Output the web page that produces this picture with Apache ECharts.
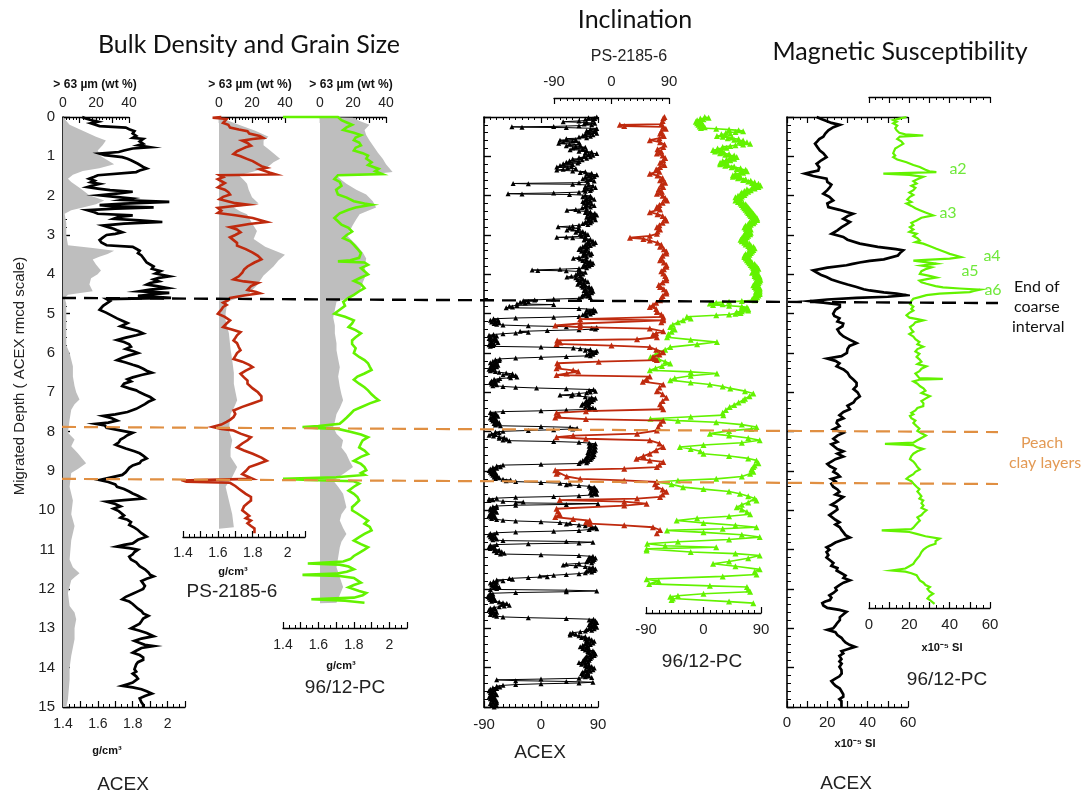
<!DOCTYPE html>
<html>
<head>
<meta charset="utf-8">
<title>Core correlation: density, grain size, inclination, susceptibility</title>
<script src="https://cdn.jsdelivr.net/npm/echarts@6.0.0/dist/echarts.min.js"></script>
<style>
  html, body { margin: 0; padding: 0; background: #fff; }
  #chart { width: 1090px; height: 795px; }
</style>
</head>
<body>
<div id="chart"></div>
<script>
// ---------------------------------------------------------------------------
// Data: every profile is a list of [depth (m, ACEX rmcd), value]
// ---------------------------------------------------------------------------

// ACEX bulk density (g/cm3)
const acexDensity = [
  [0.00,1.51],[0.04,1.53],[0.06,1.54],[0.10,1.58],[0.12,1.60],[0.16,1.56],[0.20,1.57],[0.23,1.61],[0.27,1.76],[0.31,1.78],
  [0.36,1.81],[0.42,1.80],[0.48,1.82],[0.53,1.80],[0.56,1.86],[0.62,1.84],[0.68,1.86],[0.72,1.83],[0.77,1.90],[0.80,1.80],
  [0.85,1.75],[0.89,1.72],[0.93,1.61],[0.97,1.64],[1.02,1.74],[1.06,1.77],[1.10,1.79],[1.14,1.80],[1.19,1.83],[1.23,1.84],
  [1.27,1.86],[1.31,1.88],[1.36,1.84],[1.40,1.82],[1.44,1.83],[1.48,1.60],[1.52,1.58],[1.57,1.55],[1.62,1.58],[1.66,1.56],
  [1.70,1.61],[1.74,1.57],[1.78,1.54],[1.82,1.60],[1.86,1.67],[1.90,1.80],[1.94,1.72],[1.99,1.61],[2.03,1.70],[2.07,1.79],
  [2.11,1.74],[2.16,2.01],[2.20,1.75],[2.24,1.61],[2.27,1.70],[2.30,1.92],[2.33,1.70],[2.37,1.54],[2.42,1.58],[2.46,1.60],
  [2.50,1.80],[2.54,1.72],[2.59,1.69],[2.63,1.84],[2.67,1.97],[2.71,1.75],[2.76,1.63],[2.80,1.66],[2.84,1.69],[2.88,1.71],
  [2.93,1.74],[2.97,1.70],[3.00,1.65],[3.06,1.63],[3.13,1.61],[3.19,1.62],[3.26,1.65],[3.30,1.80],[3.35,1.82],[3.40,1.84],
  [3.46,1.83],[3.52,1.85],[3.58,1.86],[3.64,1.87],[3.70,1.88],[3.75,1.90],[3.80,1.92],[3.86,1.91],[3.92,1.96],[3.98,1.93],
  [4.05,2.01],[4.09,1.95],[4.13,1.92],[4.18,1.95],[4.22,1.90],[4.26,1.88],[4.30,1.94],[4.35,2.00],[4.39,1.90],[4.43,1.84],
  [4.47,2.01],[4.51,1.90],[4.55,1.83],[4.58,1.95],[4.60,2.02],[4.63,1.65],[4.68,1.67],[4.73,1.67],[4.80,1.63],[4.90,1.61],
  [4.98,1.65],[5.05,1.68],[5.12,1.71],[5.18,1.74],[5.24,1.77],[5.28,1.75],[5.32,1.73],[5.38,1.78],[5.44,1.83],[5.50,1.86],
  [5.55,1.82],[5.61,1.76],[5.67,1.71],[5.72,1.75],[5.78,1.78],[5.84,1.79],[5.90,1.76],[5.95,1.80],[6.00,1.83],[6.06,1.78],
  [6.12,1.74],[6.18,1.71],[6.24,1.76],[6.30,1.80],[6.34,1.83],[6.40,1.86],[6.45,1.88],[6.50,1.91],[6.56,1.85],[6.62,1.80],
  [6.67,1.77],[6.72,1.79],[6.78,1.75],[6.84,1.74],[6.90,1.78],[6.95,1.82],[7.00,1.84],[7.06,1.87],[7.12,1.90],[7.18,1.92],
  [7.24,1.89],[7.30,1.87],[7.35,1.86],[7.42,1.82],[7.50,1.77],[7.56,1.70],[7.60,1.63],[7.66,1.68],[7.72,1.71],[7.77,1.66],
  [7.80,1.59],[7.84,1.64],[7.90,1.65],[7.96,1.72],[8.03,1.80],[8.09,1.77],[8.15,1.75],[8.20,1.73],[8.27,1.72],[8.33,1.70],
  [8.37,1.71],[8.43,1.76],[8.50,1.81],[8.55,1.84],[8.61,1.86],[8.68,1.88],[8.74,1.85],[8.80,1.84],[8.86,1.80],[8.92,1.78],
  [8.97,1.77],[9.03,1.76],[9.10,1.74],[9.15,1.73],[9.20,1.64],[9.23,1.61],[9.28,1.66],[9.34,1.70],[9.40,1.71],[9.46,1.75],
  [9.52,1.78],[9.57,1.80],[9.63,1.83],[9.70,1.86],[9.74,1.75],[9.78,1.65],[9.84,1.70],[9.90,1.73],[9.96,1.69],[10.02,1.72],
  [10.07,1.71],[10.13,1.75],[10.19,1.73],[10.24,1.77],[10.30,1.79],[10.37,1.78],[10.44,1.81],[10.50,1.83],[10.58,1.85],[10.67,1.88],
  [10.75,1.83],[10.84,1.80],[10.88,1.75],[10.92,1.71],[10.96,1.78],[11.00,1.83],[11.06,1.81],[11.12,1.80],[11.18,1.78],[11.25,1.79],
  [11.32,1.82],[11.37,1.81],[11.42,1.84],[11.50,1.87],[11.58,1.89],[11.64,1.90],[11.68,1.92],[11.74,1.88],[11.80,1.85],[11.85,1.84],
  [11.92,1.87],[12.00,1.86],[12.06,1.83],[12.12,1.80],[12.20,1.76],[12.26,1.74],[12.32,1.78],[12.38,1.80],[12.43,1.80],[12.50,1.83],
  [12.56,1.85],[12.62,1.86],[12.68,1.89],[12.75,1.86],[12.82,1.85],[12.88,1.84],[12.93,1.83],[13.00,1.79],[13.06,1.84],[13.12,1.88],
  [13.20,1.92],[13.26,1.85],[13.32,1.81],[13.37,1.80],[13.42,1.87],[13.45,1.92],[13.50,1.85],[13.57,1.82],[13.62,1.80],[13.68,1.84],
  [13.74,1.86],[13.80,1.86],[13.86,1.83],[13.92,1.82],[13.97,1.83],[14.04,1.81],[14.10,1.82],[14.15,1.80],[14.22,1.82],[14.28,1.83],
  [14.32,1.84],[14.38,1.80],[14.42,1.77],[14.46,1.74],[14.50,1.80],[14.55,1.85],[14.60,1.88],[14.66,1.91],[14.72,1.87],[14.78,1.84],
  [14.83,1.83],[14.88,1.85],[14.94,1.86],[15.00,1.86]
];

// ACEX coarse fraction > 63 um (wt %)
const acexGrain = [
  [0.00,0],[0.05,1],[0.20,4],[0.35,12],[0.50,20],[0.60,26],[0.72,24],[0.85,21],[1.00,23],[1.10,27],[1.20,31],[1.30,22],
  [1.37,12],[1.47,6],[1.57,3],[1.65,5],[1.80,10],[1.99,16],[2.12,25],[2.22,20],[2.30,12],[2.37,5],[2.46,1],[2.70,2],
  [3.00,2],[3.26,3],[3.33,18],[3.40,31],[3.48,27],[3.55,22],[3.62,18],[3.75,20],[3.90,23],[4.00,21],[4.10,17],[4.26,16],
  [4.43,18],[4.52,3],[4.60,1],[4.75,2],[5.00,2],[5.40,2],[5.80,2],[6.00,4],[6.34,6],[6.60,6],[6.84,7],[7.00,8],[7.18,10],
  [7.30,7],[7.44,5],[7.70,4],[8.03,3],[8.20,7],[8.37,5],[8.55,9],[8.80,14],[8.95,9],[9.05,5],[9.40,4],[9.75,6],[10.10,5],
  [10.40,7],[10.76,5],[11.25,4],[11.45,6],[11.60,10],[11.70,7],[11.78,5],[12.10,3],[12.43,4],[12.60,7],[12.77,8],[13.00,7],
  [13.28,7],[13.70,5],[14.00,4],[14.30,4],[14.80,3],[15.00,2]
];

// PS-2185-6 bulk density (g/cm3)
const psDensity = [
  [0.00,1.62],[0.02,1.57],[0.05,1.65],[0.10,1.64],[0.15,1.63],[0.20,1.66],[0.27,1.67],[0.32,1.72],[0.36,1.77],[0.42,1.78],
  [0.48,1.84],[0.53,1.86],[0.56,1.80],[0.60,1.74],[0.66,1.77],[0.73,1.79],[0.77,1.76],[0.81,1.74],[0.87,1.71],[0.94,1.69],
  [1.00,1.73],[1.07,1.77],[1.12,1.80],[1.20,1.83],[1.25,1.85],[1.29,1.88],[1.33,1.84],[1.37,1.83],[1.42,1.90],[1.46,1.93],
  [1.48,1.61],[1.53,1.63],[1.58,1.60],[1.62,1.61],[1.68,1.64],[1.73,1.62],[1.79,1.60],[1.85,1.64],[1.91,1.66],[1.97,1.67],
  [2.03,1.63],[2.09,1.61],[2.14,1.60],[2.19,1.70],[2.23,1.77],[2.27,1.68],[2.31,1.60],[2.38,1.62],[2.44,1.60],[2.50,1.70],
  [2.57,1.80],[2.62,1.84],[2.67,1.88],[2.72,1.78],[2.80,1.67],[2.86,1.71],[2.93,1.73],[3.00,1.70],[3.06,1.67],[3.13,1.69],
  [3.20,1.71],[3.27,1.71],[3.36,1.76],[3.45,1.80],[3.53,1.83],[3.62,1.85],[3.70,1.81],[3.80,1.77],[3.88,1.75],[3.96,1.74],
  [4.05,1.72],[4.13,1.69],[4.18,1.75],[4.22,1.83],[4.30,1.79],[4.40,1.77],[4.45,1.82],[4.48,1.84],[4.54,1.75],[4.60,1.67],
  [4.66,1.66],[4.72,1.63],[4.78,1.65],[4.83,1.63],[4.90,1.62],[5.00,1.60],[5.08,1.64],[5.17,1.67],[5.25,1.65],[5.34,1.63],
  [5.40,1.68],[5.47,1.73],[5.55,1.71],[5.62,1.70],[5.68,1.69],[5.75,1.71],[5.85,1.72],[5.93,1.73],[6.00,1.71],[6.08,1.70],
  [6.15,1.69],[6.22,1.74],[6.30,1.78],[6.36,1.80],[6.45,1.76],[6.53,1.73],[6.62,1.75],[6.70,1.77],[6.78,1.77],[6.90,1.80],
  [7.00,1.83],[7.10,1.85],[7.20,1.85],[7.28,1.80],[7.37,1.74],[7.46,1.69],[7.55,1.70],[7.63,1.69],[7.70,1.67],[7.75,1.65],
  [7.82,1.62],[7.88,1.57],[7.93,1.62],[7.97,1.69],[8.05,1.73],[8.14,1.79],[8.22,1.77],[8.30,1.74],[8.40,1.71],[8.48,1.75],
  [8.56,1.80],[8.66,1.85],[8.74,1.88],[8.82,1.83],[8.90,1.78],[9.00,1.76],[9.08,1.74],[9.14,1.77],[9.20,1.80],[9.22,1.60],
  [9.24,1.40],[9.27,1.42],[9.30,1.67],[9.38,1.70],[9.45,1.72],[9.50,1.73],[9.58,1.76],[9.66,1.79],[9.75,1.79],[9.82,1.77],
  [9.90,1.75],[10.00,1.74],[10.07,1.76],[10.14,1.78],[10.20,1.76],[10.26,1.79],[10.33,1.77],[10.40,1.79],[10.46,1.81],[10.51,1.80],
  [10.58,1.81]
];

// PS-2185-6 coarse fraction > 63 um (wt %)
const psGrain = [
  [0.00,0],[0.10,6],[0.20,12],[0.35,22],[0.50,30],[0.60,27],[0.72,27],[0.85,31],[1.06,37],[1.15,33],[1.29,29],[1.40,20],
  [1.48,12],[1.60,15],[1.70,17],[1.85,18],[2.04,20],[2.20,24],[2.30,9],[2.40,13],[2.47,17],[2.70,20],[2.90,23],[3.10,21],
  [3.30,28],[3.50,40],[3.65,36],[3.80,33],[4.03,27],[4.28,23],[4.54,17],[4.65,8],[4.70,5],[5.00,4],[5.17,4],[5.50,6],
  [5.90,7],[6.18,8],[6.50,9],[6.78,9],[7.00,10],[7.20,11],[7.40,9],[7.55,7],[7.97,6],[8.22,8],[8.45,7],[8.64,7],[8.90,11],
  [9.15,8],[9.40,4],[9.75,6],[10.10,8],[10.43,9],[10.47,0]
];

// 96/12-PC bulk density (g/cm3)
const pcDensity = [
  [0.00,1.40],[0.00,1.71],[0.04,1.72],[0.08,1.73],[0.14,1.76],[0.20,1.79],[0.26,1.76],[0.33,1.74],[0.40,1.80],[0.46,1.84],
  [0.52,1.81],[0.59,1.80],[0.65,1.83],[0.72,1.84],[0.78,1.81],[0.85,1.80],[0.92,1.85],[0.98,1.88],[1.06,1.87],[1.15,1.90],
  [1.22,1.88],[1.32,1.94],[1.38,1.92],[1.45,1.96],[1.48,1.71],[1.53,1.70],[1.58,1.69],[1.65,1.72],[1.75,1.73],[1.85,1.70],
  [1.97,1.71],[2.05,1.76],[2.14,1.80],[2.20,1.86],[2.23,1.90],[2.30,1.81],[2.36,1.77],[2.45,1.72],[2.57,1.69],[2.65,1.71],
  [2.74,1.73],[2.82,1.77],[2.91,1.79],[3.00,1.76],[3.08,1.74],[3.16,1.78],[3.25,1.80],[3.35,1.82],[3.46,1.84],[3.58,1.83],
  [3.64,1.78],[3.67,1.71],[3.70,1.86],[3.76,1.88],[3.84,1.84],[3.92,1.86],[4.00,1.88],[4.08,1.84],[4.17,1.80],[4.25,1.84],
  [4.35,1.86],[4.43,1.83],[4.52,1.80],[4.60,1.77],[4.70,1.74],[4.80,1.75],[4.90,1.72],[5.00,1.69],[5.08,1.75],[5.17,1.80],
  [5.25,1.79],[5.34,1.77],[5.42,1.81],[5.50,1.84],[5.60,1.81],[5.68,1.79],[5.77,1.79],[5.88,1.81],[6.00,1.80],[6.10,1.83],
  [6.18,1.86],[6.26,1.88],[6.35,1.89],[6.43,1.90],[6.52,1.86],[6.60,1.82],[6.68,1.80],[6.78,1.83],[6.87,1.86],[6.95,1.88],
  [7.05,1.90],[7.13,1.92],[7.20,1.94],[7.28,1.89],[7.38,1.84],[7.46,1.80],[7.55,1.78],[7.64,1.76],[7.72,1.74],[7.80,1.72],
  [7.86,1.60],[7.88,1.51],[7.91,1.60],[7.93,1.71],[8.00,1.78],[8.07,1.84],[8.14,1.88],[8.22,1.85],[8.30,1.84],[8.40,1.83],
  [8.48,1.86],[8.57,1.88],[8.64,1.84],[8.74,1.80],[8.82,1.84],[8.90,1.86],[8.98,1.87],[9.05,1.84],[9.10,1.86],[9.16,1.70],
  [9.20,1.40],[9.23,1.55],[9.26,1.80],[9.32,1.83],[9.40,1.80],[9.50,1.77],[9.58,1.80],[9.66,1.82],[9.75,1.83],[9.84,1.81],
  [9.92,1.79],[10.00,1.79],[10.08,1.82],[10.17,1.85],[10.26,1.88],[10.34,1.86],[10.42,1.89],[10.51,1.90],[10.60,1.86],[10.68,1.83],
  [10.77,1.80],[10.86,1.84],[10.94,1.88],[11.00,1.86],[11.08,1.83],[11.16,1.80],[11.24,1.78],[11.30,1.74],[11.35,1.54],[11.38,1.72],
  [11.43,1.77],[11.50,1.80],[11.56,1.76],[11.61,1.70],[11.64,1.51],[11.67,1.72],[11.72,1.80],[11.78,1.82],[11.84,1.84],[11.90,1.80],
  [11.96,1.77],[12.00,1.77],[12.05,1.83],[12.10,1.87],[12.16,1.85],[12.22,1.80],[12.26,1.56],[12.30,1.75],[12.35,1.86]
];

// 96/12-PC coarse fraction > 63 um (wt %)
const pcGrain = [
  [0.00,0],[0.02,20],[0.10,24],[0.20,30],[0.33,27],[0.46,28],[0.60,30],[0.72,32],[0.90,35],[1.06,38],[1.20,40],[1.40,44],
  [1.46,30],[1.48,10],[1.60,13],[1.70,16],[1.85,22],[1.97,28],[2.14,32],[2.30,34],[2.40,28],[2.47,24],[2.60,22],[2.74,20],
  [2.90,18],[3.00,16],[3.25,22],[3.45,26],[3.60,28],[3.80,27],[4.00,28],[4.20,26],[4.43,24],[4.60,18],[4.70,10],[4.90,9],
  [5.10,8],[5.30,9],[5.50,9],[5.75,10],[5.93,10],[6.15,11],[6.36,12],[6.60,11],[6.86,12],[7.05,13],[7.20,14],[7.40,12],
  [7.55,10],[7.75,9],[7.88,8],[8.05,10],[8.22,14],[8.40,13],[8.57,16],[8.75,18],[8.90,20],[9.05,15],[9.24,8],[9.40,11],
  [9.58,14],[9.75,15],[9.92,16],[10.10,13],[10.26,12],[10.45,14],[10.60,16],[10.80,13],[10.94,12],[11.20,11],[11.45,10],
  [11.70,12],[11.95,14],[12.15,12],[12.35,10],[12.36,0]
];

// ACEX inclination (degrees)
const acexIncl = [
  [0.00,88],[0.02,75],[0.04,85],[0.06,70],[0.08,82],[0.10,60],[0.12,35],[0.14,72],[0.16,85],[0.18,68],[0.20,80],[0.22,60],
  [0.24,20],[0.25,-46],[0.26,-30],[0.27,40],[0.29,88],[0.31,78],[0.33,86],[0.35,72],[0.37,84],[0.39,75],[0.41,88],[0.43,70],
  [0.45,82],[0.47,66],[0.49,78],[0.51,60],[0.53,72],[0.55,40],[0.57,55],[0.59,30],[0.61,50],[0.63,35],[0.65,60],[0.67,28],
  [0.69,45],[0.71,62],[0.73,40],[0.75,55],[0.77,70],[0.79,50],[0.81,66],[0.83,46],[0.85,72],[0.87,60],[0.89,80],[0.91,70],
  [0.93,88],[0.95,75],[0.97,82],[0.99,68],[1.01,78],[1.03,60],[1.05,72],[1.07,50],[1.09,65],[1.11,45],[1.13,60],[1.15,40],
  [1.17,58],[1.19,35],[1.21,50],[1.23,30],[1.25,48],[1.27,25],[1.29,42],[1.31,55],[1.33,35],[1.35,25],[1.37,50],[1.39,70],
  [1.41,62],[1.43,80],[1.45,72],[1.47,88],[1.49,76],[1.51,84],[1.53,70],[1.55,80],[1.57,66],[1.59,78],[1.61,72],[1.63,84],
  [1.65,74],[1.67,60],[1.69,-44],[1.70,-20],[1.71,50],[1.73,75],[1.75,82],[1.77,70],[1.79,86],[1.81,72],[1.83,80],[1.85,68],
  [1.87,78],[1.89,70],[1.91,60],[1.93,20],[1.95,-52],[1.96,-30],[1.97,45],[1.99,70],[2.01,78],[2.03,66],[2.05,80],[2.07,72],
  [2.09,84],[2.11,70],[2.13,78],[2.15,66],[2.17,74],[2.19,68],[2.21,80],[2.23,72],[2.25,84],[2.27,70],[2.29,78],[2.31,65],
  [2.33,72],[2.35,55],[2.37,41],[2.39,60],[2.41,78],[2.43,70],[2.45,85],[2.47,74],[2.49,88],[2.51,78],[2.53,84],[2.55,72],
  [2.57,82],[2.59,76],[2.61,86],[2.63,74],[2.65,80],[2.67,70],[2.69,78],[2.71,66],[2.73,74],[2.75,60],[2.77,50],[2.79,27],
  [2.81,45],[2.83,60],[2.85,50],[2.87,41],[2.89,58],[2.91,66],[2.93,55],[2.95,70],[2.97,62],[2.99,74],[3.01,64],[3.03,70],
  [3.05,40],[3.06,25],[3.07,50],[3.09,70],[3.11,78],[3.13,68],[3.15,82],[3.17,74],[3.19,86],[3.21,76],[3.23,83],[3.25,70],
  [3.27,78],[3.29,66],[3.31,74],[3.33,62],[3.35,72],[3.37,60],[3.39,70],[3.41,64],[3.43,76],[3.45,68],[3.47,80],[3.49,70],
  [3.51,78],[3.53,66],[3.55,72],[3.57,60],[3.59,51],[3.61,62],[3.63,72],[3.65,66],[3.67,78],[3.69,70],[3.71,82],[3.73,74],
  [3.75,80],[3.77,68],[3.79,76],[3.81,66],[3.83,72],[3.85,60],[3.87,30],[3.89,-14],[3.90,-5],[3.91,40],[3.93,62],[3.95,70],
  [3.97,58],[3.99,66],[4.01,55],[4.03,62],[4.05,48],[4.07,41],[4.09,55],[4.11,66],[4.13,58],[4.15,70],[4.17,62],[4.19,74],
  [4.21,60],[4.23,68],[4.25,58],[4.27,70],[4.29,64],[4.31,76],[4.33,66],[4.35,80],[4.37,70],[4.39,78],[4.41,68],[4.43,82],
  [4.45,72],[4.47,80],[4.49,70],[4.51,76],[4.53,66],[4.55,74],[4.57,64],[4.59,78],[4.61,60],[4.63,20],[4.65,-10],[4.67,-28],
  [4.69,-20],[4.71,-33],[4.73,-25],[4.75,-38],[4.77,20],[4.79,-38],[4.81,-50],[4.83,-45],[4.85,-55],[4.87,60],[4.89,83],[4.91,72],
  [4.93,86],[4.95,76],[4.97,82],[4.99,70],[5.01,78],[5.03,66],[5.05,72],[5.07,60],[5.09,20],[5.11,-40],[5.13,-75],[5.15,-68],
  [5.17,-80],[5.19,-72],[5.21,-78],[5.23,-66],[5.25,-74],[5.27,-70],[5.29,-60],[5.31,-20],[5.33,40],[5.35,88],[5.37,80],[5.39,86],
  [5.41,60],[5.43,10],[5.45,-33],[5.47,-20],[5.49,-40],[5.51,-60],[5.53,-75],[5.55,-82],[5.57,-70],[5.59,-80],[5.61,-72],[5.63,-82],
  [5.65,-74],[5.67,-80],[5.69,-70],[5.71,-78],[5.73,-68],[5.75,-80],[5.77,-74],[5.79,-82],[5.81,-76],[5.83,-80],[5.85,0],[5.87,51],
  [5.89,62],[5.91,78],[5.93,70],[5.95,88],[5.97,80],[5.99,86],[6.01,76],[6.03,82],[6.05,72],[6.07,78],[6.09,40],[6.11,0],
  [6.13,-40],[6.15,-65],[6.17,-72],[6.19,-66],[6.21,-76],[6.23,-70],[6.25,-80],[6.27,-72],[6.29,-78],[6.31,-68],[6.33,-75],[6.35,-70],
  [6.37,-80],[6.39,-74],[6.41,-82],[6.43,-76],[6.45,-80],[6.47,-72],[6.49,-66],[6.51,-55],[6.53,-45],[6.55,-60],[6.57,-40],[6.59,-50],
  [6.61,-38],[6.63,-48],[6.65,-65],[6.67,-74],[6.69,-68],[6.71,-78],[6.73,-72],[6.75,-80],[6.77,-74],[6.79,-78],[6.81,-70],[6.83,-76],
  [6.85,-60],[6.87,-40],[6.89,-7],[6.91,40],[6.93,83],[6.95,76],[6.97,86],[6.99,78],[7.01,72],[7.03,60],[7.05,50],[7.07,30],
  [7.09,48],[7.11,70],[7.13,80],[7.15,86],[7.17,76],[7.19,83],[7.21,72],[7.23,80],[7.25,70],[7.27,76],[7.29,66],[7.31,74],
  [7.33,64],[7.35,76],[7.37,70],[7.39,82],[7.41,76],[7.43,86],[7.45,40],[7.47,0],[7.49,-60],[7.51,-80],[7.53,-72],[7.55,-78],
  [7.57,-70],[7.59,-76],[7.61,-68],[7.63,-74],[7.65,-80],[7.67,-72],[7.69,-78],[7.71,-70],[7.73,-76],[7.75,-72],[7.77,-66],[7.79,-74],
  [7.81,-68],[7.83,-72],[7.85,-64],[7.87,0],[7.89,46],[7.91,57],[7.93,50],[7.95,20],[7.97,-20],[7.99,-60],[8.01,-72],[8.03,-66],
  [8.05,-78],[8.07,-72],[8.09,-82],[8.11,-75],[8.13,-66],[8.15,-58],[8.17,-66],[8.19,-54],[8.21,-60],[8.23,-50],[8.25,20],[8.27,60],
  [8.29,76],[8.31,86],[8.33,78],[8.35,84],[8.37,76],[8.39,86],[8.41,78],[8.43,84],[8.45,76],[8.47,86],[8.49,78],[8.51,84],
  [8.53,74],[8.55,82],[8.57,76],[8.59,84],[8.61,74],[8.63,82],[8.65,72],[8.67,80],[8.69,70],[8.71,78],[8.73,66],[8.75,74],
  [8.77,62],[8.79,72],[8.81,60],[8.83,0],[8.85,-60],[8.87,-70],[8.89,-64],[8.91,-76],[8.93,-70],[8.95,-80],[8.97,-74],[8.99,-82],
  [9.01,-76],[9.03,-80],[9.05,-72],[9.07,-78],[9.09,-70],[9.11,-76],[9.13,-70],[9.15,-74],[9.17,-66],[9.19,-72],[9.21,-60],[9.23,-48],
  [9.25,-55],[9.27,-40],[9.29,0],[9.31,30],[9.33,46],[9.35,40],[9.37,60],[9.39,76],[9.41,84],[9.43,78],[9.45,86],[9.47,80],
  [9.49,88],[9.51,80],[9.53,86],[9.55,78],[9.57,84],[9.59,88],[9.61,80],[9.63,60],[9.65,20],[9.67,-40],[9.69,-70],[9.71,-82],
  [9.73,-76],[9.75,-82],[9.77,-60],[9.79,-28],[9.81,-40],[9.83,90],[9.85,40],[9.87,-40],[9.89,-70],[9.91,-76],[9.93,-70],[9.95,-80],
  [9.97,-74],[9.99,-80],[10.01,-72],[10.03,-78],[10.05,-70],[10.07,-76],[10.09,-80],[10.11,-74],[10.13,-82],[10.15,-76],[10.17,-80],[10.19,-72],
  [10.21,-78],[10.23,-70],[10.25,-60],[10.27,-40],[10.29,0],[10.31,30],[10.33,46],[10.35,40],[10.37,60],[10.39,70],[10.41,80],[10.43,86],
  [10.45,80],[10.47,88],[10.49,76],[10.51,60],[10.53,20],[10.55,-40],[10.57,-70],[10.59,-80],[10.61,-74],[10.63,-82],[10.65,-76],[10.67,-80],
  [10.69,-72],[10.71,-78],[10.73,-70],[10.75,-76],[10.77,-60],[10.79,40],[10.81,82],[10.83,60],[10.85,-20],[10.87,-70],[10.89,-80],[10.91,-74],
  [10.93,-82],[10.95,-76],[10.97,-80],[10.99,-72],[11.01,-66],[11.03,-74],[11.05,-62],[11.07,-70],[11.09,-58],[11.11,-64],[11.13,0],[11.15,60],
  [11.17,82],[11.19,76],[11.21,86],[11.23,78],[11.25,84],[11.27,74],[11.29,82],[11.31,72],[11.33,80],[11.35,60],[11.37,40],[11.39,35],
  [11.41,55],[11.43,70],[11.45,82],[11.47,76],[11.49,86],[11.51,78],[11.53,84],[11.55,72],[11.57,80],[11.59,70],[11.61,60],[11.63,40],
  [11.65,20],[11.67,-2],[11.69,10],[11.71,-20],[11.73,-50],[11.75,-45],[11.77,-70],[11.79,-60],[11.81,-75],[11.83,-70],[11.85,-80],[11.87,-72],
  [11.89,-78],[11.91,-70],[11.93,-76],[11.95,-66],[11.97,-74],[11.99,-70],[12.01,-80],[12.03,40],[12.05,88],[12.07,40],[12.09,-40],[12.11,-80],
  [12.13,-76],[12.15,-82],[12.17,-76],[12.19,-84],[12.21,-78],[12.23,-82],[12.25,-74],[12.27,-80],[12.29,-72],[12.31,-78],[12.33,-66],[12.35,-60],
  [12.37,-54],[12.39,-62],[12.41,-50],[12.43,-58],[12.45,-66],[12.47,-74],[12.49,-80],[12.51,-72],[12.53,-82],[12.55,-76],[12.57,-80],[12.59,-70],
  [12.61,-78],[12.63,-72],[12.65,-80],[12.67,-74],[12.69,-70],[12.71,-60],[12.73,-20],[12.75,40],[12.77,83],[12.79,76],[12.81,86],[12.83,80],
  [12.85,88],[12.87,78],[12.89,84],[12.91,76],[12.93,86],[12.95,80],[12.97,88],[12.99,76],[13.01,84],[13.03,72],[13.05,80],[13.07,70],
  [13.09,62],[13.11,50],[13.13,46],[13.15,55],[13.17,46],[13.19,60],[13.21,70],[13.23,64],[13.25,76],[13.27,70],[13.29,80],[13.31,72],
  [13.33,84],[13.35,74],[13.37,82],[13.39,70],[13.41,78],[13.43,66],[13.45,74],[13.47,62],[13.49,72],[13.51,66],[13.53,76],[13.55,70],
  [13.57,82],[13.59,74],[13.61,84],[13.63,76],[13.65,86],[13.67,78],[13.69,84],[13.71,72],[13.73,80],[13.75,70],[13.77,78],[13.79,68],
  [13.81,76],[13.83,66],[13.85,74],[13.87,60],[13.89,70],[13.91,64],[13.93,76],[13.95,70],[13.97,80],[13.99,72],[14.01,84],[14.03,76],
  [14.05,82],[14.07,70],[14.09,78],[14.11,66],[14.13,74],[14.15,64],[14.17,72],[14.19,66],[14.21,76],[14.23,70],[14.25,80],[14.27,60],
  [14.29,0],[14.31,-70],[14.33,-40],[14.35,40],[14.37,82],[14.39,60],[14.41,0],[14.43,-40],[14.45,-60],[14.47,-70],[14.49,-65],[14.51,-76],
  [14.53,-70],[14.55,-80],[14.57,-74],[14.59,-82],[14.61,-76],[14.63,-80],[14.65,-72],[14.67,-78],[14.69,-70],[14.71,-80],[14.73,-74],[14.75,-82],
  [14.77,-76],[14.79,-80],[14.81,-72],[14.83,-78],[14.85,-70],[14.87,-76],[14.89,-70],[14.91,-80],[14.93,-72],[14.95,-78],[14.97,-70],[15.00,-74]
];

// PS-2185-6 inclination (degrees)
const psIncl = [
  [0.00,83],[0.03,81],[0.10,80],[0.18,78],[0.20,13],[0.23,20],[0.25,81],[0.30,85],[0.36,78],[0.42,76],[0.48,82],[0.54,75],
  [0.59,60],[0.64,76],[0.70,83],[0.76,81],[0.82,72],[0.88,78],[0.93,71],[0.98,80],[1.04,84],[1.10,81],[1.16,76],[1.22,83],
  [1.27,76],[1.33,70],[1.39,75],[1.44,60],[1.49,72],[1.55,80],[1.61,76],[1.67,84],[1.72,78],[1.78,81],[1.84,74],[1.90,79],
  [1.95,71],[2.00,80],[2.06,84],[2.12,87],[2.18,80],[2.24,75],[2.29,71],[2.35,76],[2.42,60],[2.47,72],[2.52,80],[2.58,84],
  [2.63,86],[2.69,80],[2.75,75],[2.80,71],[2.86,76],[2.91,72],[2.97,71],[3.02,60],[3.07,29],[3.10,50],[3.14,60],[3.20,72],
  [3.25,78],[3.30,76],[3.36,82],[3.42,86],[3.47,86],[3.53,80],[3.59,78],[3.64,76],[3.70,82],[3.76,86],[3.81,86],[3.87,82],
  [3.92,78],[3.98,81],[4.04,84],[4.10,86],[4.15,86],[4.21,80],[4.27,74],[4.32,76],[4.38,82],[4.44,86],[4.49,86],[4.55,80],
  [4.60,78],[4.66,76],[4.72,70],[4.78,65],[4.83,60],[4.88,70],[4.96,71],[5.02,78],[5.08,81],[5.13,81],[5.14,-49],[5.17,81],
  [5.22,78],[5.25,-49],[5.30,-88],[5.34,-49],[5.38,60],[5.45,81],[5.50,70],[5.53,65],[5.60,71],[5.65,40],[5.68,-85],[5.73,-80],
  [5.77,-86],[5.81,0],[5.85,60],[5.92,70],[5.98,81],[6.04,75],[6.10,65],[6.15,68],[6.18,71],[6.22,-20],[6.26,-85],[6.33,-82],
  [6.39,-86],[6.44,-60],[6.47,-52],[6.52,-70],[6.56,-86],[6.60,60],[6.66,55],[6.73,49],[6.80,81],[6.88,75],[6.97,71],[7.05,80],
  [7.14,86],[7.22,80],[7.30,76],[7.37,78],[7.43,81],[7.48,-40],[7.52,-86],[7.58,-82],[7.64,-88],[7.68,-40],[7.72,81],[7.80,76],
  [7.88,73],[7.97,71],[8.05,40],[8.10,-60],[8.14,-86],[8.18,-40],[8.22,60],[8.30,75],[8.39,81],[8.47,70],[8.56,60],[8.62,50],
  [8.69,39],[8.73,60],[8.77,81],[8.84,75],[8.90,71],[8.94,20],[8.98,-88],[9.03,-84],[9.07,-86],[9.14,-70],[9.20,-49],[9.24,20],
  [9.28,71],[9.34,68],[9.40,71],[9.47,80],[9.53,86],[9.60,80],[9.66,76],[9.70,40],[9.74,-81],[9.78,20],[9.83,55],[9.88,20],
  [9.96,-86],[10.03,-84],[10.10,-81],[10.17,-88],[10.22,-60],[10.26,-34],[10.30,-40],[10.34,-34],[10.38,20],[10.43,65],[10.50,76],[10.58,71]
];

// 96/12-PC inclination (degrees)
const pcIncl = [
  [0.00,2],[0.02,8],[0.04,-5],[0.06,0],[0.08,-10],[0.10,-4],[0.12,-12],[0.14,-6],[0.16,-10],[0.18,-2],[0.20,-8],[0.22,0],
  [0.24,-6],[0.26,2],[0.28,-4],[0.30,20],[0.32,40],[0.34,55],[0.36,62],[0.38,50],[0.40,35],[0.42,42],[0.44,28],[0.46,34],
  [0.48,21],[0.50,30],[0.52,45],[0.54,38],[0.56,55],[0.58,48],[0.60,62],[0.62,56],[0.64,68],[0.66,60],[0.68,73],[0.70,62],
  [0.72,50],[0.74,42],[0.76,30],[0.78,36],[0.80,22],[0.82,28],[0.84,15],[0.86,24],[0.88,18],[0.90,32],[0.92,26],[0.94,40],
  [0.96,34],[0.98,48],[1.00,42],[1.02,52],[1.04,44],[1.06,48],[1.08,36],[1.10,42],[1.12,30],[1.14,36],[1.16,26],[1.18,32],
  [1.20,26],[1.22,38],[1.24,34],[1.26,48],[1.28,44],[1.30,58],[1.32,52],[1.34,66],[1.36,60],[1.38,68],[1.40,58],[1.42,62],
  [1.44,50],[1.46,56],[1.48,46],[1.50,52],[1.52,46],[1.54,58],[1.56,54],[1.58,66],[1.60,62],[1.62,74],[1.64,70],[1.66,80],
  [1.68,76],[1.70,86],[1.72,80],[1.74,89],[1.76,82],[1.78,86],[1.80,76],[1.82,80],[1.84,68],[1.86,74],[1.88,64],[1.90,70],
  [1.92,60],[1.94,66],[1.96,58],[1.98,64],[2.00,54],[2.02,60],[2.04,50],[2.06,58],[2.08,52],[2.10,56],[2.12,50],[2.14,58],
  [2.16,54],[2.18,62],[2.20,58],[2.22,66],[2.24,60],[2.26,68],[2.28,62],[2.30,70],[2.32,64],[2.34,72],[2.36,66],[2.38,74],
  [2.40,68],[2.42,76],[2.44,70],[2.46,78],[2.48,72],[2.50,80],[2.52,74],[2.54,82],[2.56,76],[2.58,84],[2.60,78],[2.62,84],
  [2.64,76],[2.66,80],[2.68,72],[2.70,78],[2.72,70],[2.74,74],[2.76,66],[2.78,72],[2.80,64],[2.82,72],[2.84,66],[2.86,74],
  [2.88,68],[2.90,72],[2.92,66],[2.94,74],[2.96,68],[2.98,73],[3.00,64],[3.02,70],[3.04,62],[3.06,68],[3.08,60],[3.10,66],
  [3.12,58],[3.14,64],[3.16,60],[3.18,68],[3.20,64],[3.22,72],[3.24,66],[3.26,74],[3.28,70],[3.30,78],[3.32,72],[3.34,80],
  [3.36,74],[3.38,78],[3.40,72],[3.42,76],[3.44,70],[3.46,74],[3.48,66],[3.50,72],[3.52,64],[3.54,70],[3.56,64],[3.58,70],
  [3.60,66],[3.62,72],[3.64,68],[3.66,74],[3.68,70],[3.70,76],[3.72,72],[3.74,80],[3.76,74],[3.78,82],[3.80,76],[3.82,84],
  [3.84,78],[3.86,86],[3.88,80],[3.90,84],[3.92,78],[3.94,82],[3.96,76],[3.98,84],[4.00,80],[4.02,86],[4.04,80],[4.06,88],
  [4.08,82],[4.10,88],[4.12,84],[4.14,89],[4.16,84],[4.18,88],[4.20,82],[4.22,86],[4.24,80],[4.26,84],[4.28,78],[4.30,84],
  [4.32,80],[4.34,88],[4.36,82],[4.38,88],[4.40,84],[4.42,88],[4.44,82],[4.46,88],[4.48,84],[4.50,88],[4.52,82],[4.54,86],
  [4.56,80],[4.58,84],[4.60,78],[4.62,82],[4.64,76],[4.66,80],[4.68,60],[4.70,40],[4.72,20],[4.74,10],[4.76,30],[4.78,15],
  [4.80,40],[4.82,60],[4.84,68],[4.86,60],[4.88,70],[4.90,62],[4.92,70],[4.94,60],[4.96,52],[4.98,58],[5.00,50],[5.02,40],
  [5.04,20],[5.08,-26],[5.12,-20],[5.17,-32],[5.22,-40],[5.28,-48],[5.34,-52],[5.40,-45],[5.46,-50],[5.52,-55],[5.60,-57],[5.66,-20],
  [5.72,21],[5.78,-10],[5.85,-52],[5.92,-60],[5.98,-70],[6.04,-75],[6.10,-83],[6.16,-70],[6.22,-60],[6.27,-52],[6.33,-65],[6.39,-75],
  [6.44,-84],[6.48,-20],[6.52,21],[6.58,-20],[6.64,-45],[6.69,-52],[6.75,-20],[6.80,10],[6.85,30],[6.90,42],[6.97,65],[7.03,78],
  [7.10,72],[7.16,65],[7.20,62],[7.26,55],[7.32,48],[7.37,41],[7.45,35],[7.52,30],[7.58,31],[7.62,-20],[7.67,-83],[7.72,-40],
  [7.76,20],[7.82,60],[7.88,83],[7.93,75],[7.98,40],[8.05,10],[8.10,40],[8.16,70],[8.22,88],[8.28,60],[8.34,0],[8.39,-37],
  [8.44,-20],[8.50,-5],[8.56,0],[8.62,40],[8.68,70],[8.73,83],[8.80,86],[8.86,80],[8.90,78],[8.96,75],[9.02,78],[9.07,73],
  [9.14,60],[9.20,20],[9.24,-40],[9.28,-73],[9.34,-50],[9.41,-32],[9.46,0],[9.52,40],[9.58,57],[9.64,70],[9.70,80],[9.75,83],
  [9.80,70],[9.86,60],[9.92,52],[9.98,60],[10.04,68],[10.10,73],[10.15,40],[10.20,-10],[10.26,-42],[10.32,0],[10.38,50],[10.43,83],
  [10.47,30],[10.51,-57],[10.56,0],[10.62,60],[10.68,88],[10.74,40],[10.80,-40],[10.85,-88],[10.90,-60],[10.94,20],[10.98,-89],[11.02,-89],
  [11.06,-20],[11.10,50],[11.15,88],[11.22,70],[11.30,40],[11.36,15],[11.42,50],[11.50,88],[11.56,80],[11.63,83],[11.68,30],[11.75,-89],
  [11.80,-70],[11.87,-85],[11.92,10],[11.95,68],[12.01,70],[12.07,73],[12.12,0],[12.17,-40],[12.20,-52],[12.24,-48],[12.28,-50],[12.32,40],
  [12.36,78]
];

// ACEX magnetic susceptibility (x10^-5 SI)
const acexSusc = [
  [0.00,14.7],[0.05,17],[0.10,19.6],[0.15,22],[0.20,26.2],[0.26,23],[0.34,20.5],[0.42,19],[0.50,18],[0.56,16],[0.62,15],[0.68,13.9],
  [0.76,15],[0.85,16.3],[0.92,18],[1.02,19.6],[1.10,17],[1.19,14.7],[1.28,16],[1.36,15.5],[1.40,12],[1.44,8.9],[1.50,13],[1.57,19.6],
  [1.65,20],[1.72,22],[1.78,21.3],[1.86,20],[1.95,18],[2.03,21],[2.12,22.9],[2.20,20],[2.29,20.5],[2.36,26],[2.42,30],[2.46,32.8],
  [2.52,30],[2.59,27.9],[2.67,31.2],[2.74,29],[2.80,27.1],[2.88,25],[2.97,22.1],[3.05,27.9],[3.12,30],[3.22,36.1],[3.30,45],[3.36,54],
  [3.39,57.6],[3.46,56],[3.52,55],[3.56,54.3],[3.62,48],[3.66,41],[3.70,36],[3.74,32],[3.77,29.5],[3.83,20],[3.90,13],[3.96,15],
  [4.02,17],[4.07,19.6],[4.13,22],[4.20,26.2],[4.26,30],[4.32,34.5],[4.38,38],[4.41,41],[4.46,48],[4.49,54.3],[4.53,59.2],[4.57,50],
  [4.60,34.5],[4.64,20],[4.68,11.4],[4.72,18],[4.77,26.2],[4.83,26.2],[4.90,24],[5.00,22.9],[5.06,23.5],[5.12,26],[5.20,25],[5.25,27.9],
  [5.32,27.5],[5.40,25],[5.50,26.2],[5.58,28],[5.66,31],[5.75,34.5],[5.82,31],[5.90,30],[6.00,29.7],[6.08,27],[6.14,20],[6.20,24],
  [6.26,26],[6.34,24.6],[6.42,28],[6.50,30],[6.60,31.2],[6.68,33],[6.76,34.5],[6.84,34.5],[6.92,33],[7.00,35],[7.10,36.1],[7.18,34],
  [7.26,33],[7.34,30],[7.43,31.2],[7.50,28],[7.58,26],[7.66,28],[7.72,25],[7.78,24.6],[7.86,26],[7.94,23],[8.03,27.9],[8.10,25],
  [8.18,23],[8.26,25],[8.32,22],[8.37,22.9],[8.44,25],[8.50,27.9],[8.56,25],[8.63,27.9],[8.70,24],[8.76,22],[8.82,20],[8.88,21.3],
  [8.95,24],[9.02,23],[9.08,25],[9.14,26.2],[9.20,22],[9.26,24],[9.33,22],[9.40,22.9],[9.47,25],[9.53,26],[9.60,24],[9.66,27.9],
  [9.73,26],[9.80,24],[9.86,22],[9.91,24.6],[9.98,25],[10.05,23],[10.12,21],[10.17,21.3],[10.24,24],[10.30,26],[10.36,24],[10.43,26.2],
  [10.50,27],[10.56,28],[10.63,29],[10.69,31.2],[10.76,27],[10.82,24],[10.88,22],[10.94,19.6],[11.00,21],[11.06,19.6],[11.14,20.5],[11.20,19.6],
  [11.27,21.3],[11.34,23],[11.41,22],[11.47,25],[11.53,24.6],[11.60,27],[11.66,29],[11.72,28],[11.78,31.2],[11.84,28],[11.90,26],[11.97,24],
  [12.03,24.6],[12.10,23],[12.16,21],[12.22,22],[12.28,21.3],[12.32,19],[12.36,17.5],[12.42,18],[12.48,20],[12.53,26],[12.58,29.5],[12.64,28],
  [12.72,26.2],[12.79,26.2],[12.86,25],[12.93,24],[13.00,22.9],[13.04,20],[13.10,24],[13.17,25],[13.24,27],[13.30,27.9],[13.36,29],[13.42,31],
  [13.47,33.7],[13.53,30],[13.58,27],[13.64,27.9],[13.70,26],[13.78,27],[13.84,26],[13.90,27.1],[13.98,26],[14.06,27],[14.15,27.1],[14.22,26],
  [14.28,24],[14.34,22],[14.40,22.9],[14.46,24],[14.53,26.2],[14.60,27],[14.68,27.9],[14.74,27.9],[14.80,26],[14.85,27],[14.90,26.2],[14.96,27],
  [15.00,27.1]
];

// 96/12-PC magnetic susceptibility (x10^-5 SI)
const pcSusc = [
  [0.00,18.6],[0.04,15],[0.08,12],[0.12,13.7],[0.16,12],[0.22,14],[0.28,13],[0.34,13.7],[0.40,15],[0.44,18],[0.47,26.9],[0.50,15.3],
  [0.56,14],[0.62,16],[0.68,17],[0.74,15],[0.80,13],[0.85,13.7],[0.92,12],[0.98,13],[1.02,12],[1.08,14],[1.15,18.6],[1.22,22],
  [1.27,25.2],[1.34,28],[1.38,30],[1.40,33.4],[1.42,20],[1.44,7.1],[1.47,20],[1.52,26.9],[1.58,24],[1.63,22],[1.69,23.6],[1.75,21],
  [1.80,23],[1.86,22],[1.92,20],[1.98,22],[2.03,20.3],[2.10,19],[2.16,21],[2.20,18.6],[2.26,21],[2.32,23],[2.37,25.2],[2.43,28],
  [2.50,31.8],[2.56,26],[2.63,23.6],[2.69,21],[2.75,22],[2.80,20.3],[2.86,22],[2.92,20],[2.97,23.6],[3.03,22],[3.08,24],[3.14,25.2],
  [3.18,23],[3.22,26.9],[3.28,30],[3.35,33.4],[3.40,36],[3.44,38],[3.48,40],[3.52,43],[3.56,45.7],[3.60,40],[3.63,28],[3.65,22],
  [3.69,28],[3.73,33.4],[3.78,26],[3.82,31],[3.86,28.5],[3.92,26],[3.99,25.2],[4.04,30],[4.08,33.4],[4.11,30],[4.16,25],[4.20,26],
  [4.24,28.5],[4.30,33],[4.33,36.7],[4.36,45],[4.39,55],[4.42,52],[4.45,50],[4.49,35],[4.53,28.5],[4.58,25],[4.62,22],[4.68,21],
  [4.75,20.3],[4.82,22],[4.88,21],[4.92,22],[4.98,20],[5.04,18.6],[5.10,20],[5.14,24],[5.17,26.9],[5.22,23],[5.28,22],[5.34,20.3],
  [5.40,21],[5.46,22],[5.52,20],[5.58,22],[5.65,23],[5.72,25],[5.78,24],[5.84,26.9],[5.90,24],[5.96,23],[6.02,25],[6.10,23.6],
  [6.16,25],[6.22,26],[6.28,24],[6.34,28.5],[6.40,26],[6.46,25],[6.52,23],[6.58,24],[6.64,25],[6.66,36.6],[6.68,25],[6.72,22],
  [6.78,24],[6.84,25.2],[6.90,27],[6.96,28],[7.02,26],[7.10,30.2],[7.16,28],[7.22,26],[7.28,27],[7.35,26.9],[7.40,24],[7.46,23],
  [7.52,21],[7.56,22],[7.60,20.3],[7.66,21],[7.72,23],[7.78,22],[7.86,23.6],[7.92,25],[7.98,24],[8.04,26],[8.10,28.2],[8.16,26],
  [8.22,24],[8.28,22],[8.31,7.9],[8.34,22],[8.40,24],[8.44,26.9],[8.50,24],[8.56,22],[8.62,21],[8.70,20.3],[8.76,22],[8.82,23],
  [8.90,24],[8.96,25.2],[9.02,23],[9.08,22],[9.14,20],[9.20,18.6],[9.26,21],[9.32,22],[9.40,23.6],[9.46,25],[9.52,24],[9.58,25],
  [9.64,26],[9.70,25],[9.75,26.9],[9.82,26],[9.88,27],[9.94,26],[10.00,28.5],[10.06,27],[10.12,26],[10.18,24],[10.26,25.2],[10.32,24],
  [10.38,23],[10.44,22],[10.48,21],[10.51,6.3],[10.55,20],[10.60,23.6],[10.66,28],[10.72,35],[10.78,33],[10.85,33],[10.90,30],[10.94,28.5],
  [11.00,27],[11.06,26],[11.10,26.9],[11.16,25],[11.22,24],[11.28,23],[11.36,22],[11.42,20],[11.48,18],[11.53,11.2],[11.56,18],[11.60,21],
  [11.65,23.6],[11.70,24],[11.78,25.2],[11.84,27],[11.90,28],[11.95,30.2],[12.00,29],[12.06,30],[12.12,31.8],[12.18,30],[12.24,29],[12.28,30.2],
  [12.33,31],[12.38,32.5]
];

// Marker horizons: [depth at left end, depth at right end] (m)
const coarseEndDepths = [4.60, 4.73];
const peachClayDepths = [[7.88, 8.01], [9.20, 9.33]];

// Coarse events labelled on the 96/12-PC susceptibility curve
const eventLabels = ['a2', 'a3', 'a4', 'a5', 'a6'];

// Tick labels
const depthTickLabels = [0,1,2,3,4,5,6,7,8,9,10,11,12,13,14,15];
const densityTickLabels = [1.4, 1.6, 1.8, 2];
const grainTickLabels = [0, 20, 40];
const inclTickLabels = [-90, 0, 90];
const suscTickLabels = [0, 20, 40, 60];

// ---------------------------------------------------------------------------
// Layout and styling
// ---------------------------------------------------------------------------
const SANS = '"Liberation Sans", Arial, Helvetica, sans-serif';
const HUMANIST = 'Lato, "Open Sans", sans-serif';
const BLACK = '#000000';
const RED = '#bf2a0e';
const GREEN = '#63f200';
const GRAY = '#bebebe';
const ORANGE = '#e08f42';
const TOP = 117;
const PX_PER_M = 590 / 15;

const panels = {
  acexD: { left: 63,  width: 122, height: 590 },
  acexG: { left: 63,  width: 66,  height: 590 },
  psD:   { left: 183, width: 122, height: 420 },
  psG:   { left: 219, width: 66,  height: 420 },
  pcD:   { left: 283, width: 124, height: 511 },
  pcG:   { left: 320, width: 66,  height: 511 },
  acexI: { left: 484, width: 114, height: 590 },
  psI:   { left: 554, width: 115, height: 420 },
  pcI:   { left: 646, width: 115, height: 496 },
  acexM: { left: 787, width: 121, height: 590 },
  pcM:   { left: 869, width: 121, height: 491 },
  over:  { left: 0,   width: 1090, height: 590 }
};
const order = ['acexD','acexG','psD','psG','pcD','pcG','acexI','psI','pcI','acexM','pcM','over'];
const G = {};
order.forEach((k, i) => { G[k] = i; });

const grids = order.map(k => ({
  left: panels[k].left, top: TOP, width: panels[k].width, height: panels[k].height, containLabel: false
}));

function pick(list) {
  return v => list.some(t => Math.abs(t - v) < 1e-6) ? String(+(+v).toFixed(2)) : '';
}

// Depth (vertical) axes
function depthAxis(key, visible, withLabels) {
  return {
    type: 'value', gridIndex: G[key], inverse: true, min: 0,
    max: panels[key].height / PX_PER_M, interval: 1, show: visible,
    axisLine: { show: true, onZero: false, lineStyle: { color: BLACK, width: 1.6 } },
    axisTick: { show: true, inside: true, length: 7, lineStyle: { color: BLACK, width: 1.4 } },
    minorTick: { show: true, splitNumber: 5, length: 4, lineStyle: { color: BLACK, width: 1 } },
    axisLabel: { show: withLabels, formatter: pick(depthTickLabels), fontFamily: SANS, fontSize: 15,
                 color: '#222', margin: 8 },
    splitLine: { show: false }, minorSplitLine: { show: false }
  };
}

// Horizontal value axes
function valueAxis(key, position, min, max, interval, minorSplit, labels, o) {
  o = o || {};
  return {
    type: 'value', gridIndex: G[key], position: position, offset: o.offset || 0,
    min: min, max: max, interval: interval,
    axisLine: { show: true, onZero: false, lineStyle: { color: BLACK, width: 1.4 } },
    axisTick: { show: true, inside: true, length: o.tick || 6, lineStyle: { color: BLACK, width: 1.2 } },
    minorTick: { show: true, splitNumber: minorSplit, length: o.minor || 3, lineStyle: { color: BLACK, width: 1 } },
    axisLabel: {
      show: !!labels, formatter: labels ? pick(labels) : '', fontFamily: SANS,
      fontSize: o.fontSize || 14, color: '#222', margin: o.margin || 8,
      showMinLabel: true, showMaxLabel: true
    },
    splitLine: { show: false }, minorSplitLine: { show: false }
  };
}

const xAxes = [
  valueAxis('acexD', 'bottom', 1.4, 2.1, 0.1, 3, densityTickLabels, { margin: 10 }),          // 0
  valueAxis('acexG', 'top', 0, 40, 10, 5, grainTickLabels, { margin: 7 }),                    // 1
  valueAxis('psD',   'bottom', 1.4, 2.1, 0.1, 3, densityTickLabels, { margin: 9 }),           // 2
  valueAxis('psG',   'top', 0, 40, 10, 5, grainTickLabels, { margin: 7 }),                    // 3
  valueAxis('pcD',   'bottom', 1.4, 2.1, 0.1, 3, densityTickLabels, { margin: 10 }),          // 4
  valueAxis('pcG',   'top', 0, 40, 10, 5, grainTickLabels, { margin: 7 }),                    // 5
  valueAxis('acexI', 'bottom', -90, 90, 90, 9, inclTickLabels, { margin: 10, fontSize: 15 }), // 6
  valueAxis('acexI', 'top', -90, 90, 90, 9, null, {}),                                         // 7
  valueAxis('psI',   'top', -90, 90, 90, 9, inclTickLabels, { offset: 19, margin: 9, fontSize: 15 }), // 8
  valueAxis('pcI',   'bottom', -90, 90, 90, 9, inclTickLabels, { margin: 9, fontSize: 15 }), // 9
  valueAxis('acexM', 'bottom', 0, 60, 10, 3, suscTickLabels, { margin: 8, fontSize: 15 }),   // 10
  valueAxis('acexM', 'top', 0, 60, 10, 3, null, {}),                                           // 11
  valueAxis('pcM',   'bottom', 0, 60, 10, 3, suscTickLabels, { margin: 9, fontSize: 15 }),   // 12
  valueAxis('pcM',   'top', 0, 60, 10, 3, null, { offset: 20 }),                              // 13
  { type: 'value', gridIndex: G.over, min: 0, max: 1090, show: false }                         // 14
];

const yAxes = order.map(k => {
  if (k === 'acexD') return depthAxis(k, true, true);
  if (k === 'acexI' || k === 'acexM') return depthAxis(k, true, false);
  return depthAxis(k, false, false);
});

// Series helpers
function profile(key, xIdx, pts, color, width, z) {
  return {
    type: 'line', xAxisIndex: xIdx, yAxisIndex: G[key],
    data: pts.map(p => [p[1], p[0]]),
    symbol: 'none', showSymbol: false, clip: false,
    lineStyle: { color: color, width: width, join: 'miter' },
    z: z || 3, animation: false, silent: true
  };
}

function markedProfile(key, xIdx, pts, color, width, size, z) {
  return {
    type: 'line', xAxisIndex: xIdx, yAxisIndex: G[key],
    data: pts.map(p => [p[1], p[0]]),
    symbol: 'triangle', symbolSize: size, showSymbol: true, showAllSymbol: true, clip: false,
    itemStyle: { color: color, borderWidth: 0 },
    lineStyle: { color: color, width: width },
    z: z || 3, animation: false, silent: true
  };
}

// Coarse fraction drawn as a filled polygon from the 0 % edge
function grainFill(key, xIdx, pts) {
  return {
    type: 'custom', xAxisIndex: xIdx, yAxisIndex: G[key],
    data: pts.map(p => [p[1], p[0]]),
    renderItem: (params, api) => {
      if (params.dataIndex !== 0) return null;
      const poly = [api.coord([0, pts[0][0]])];
      pts.forEach(p => poly.push(api.coord([p[1], p[0]])));
      poly.push(api.coord([0, pts[pts.length - 1][0]]));
      return { type: 'polygon', shape: { points: poly }, style: { fill: GRAY }, silent: true };
    },
    z: 1, animation: false, silent: true
  };
}

// Horizon lines drawn across all panels
const DASH_X0 = 62, DASH_X1 = 998;
function horizon(depths, color, width, dash) {
  return {
    type: 'line', xAxisIndex: 14, yAxisIndex: G.over,
    data: [[DASH_X0, depths[0]], [DASH_X1, depths[1]]],
    symbol: 'none', clip: false,
    lineStyle: { color: color, width: width, type: dash },
    z: 10, animation: false, silent: true
  };
}

const series = [
  grainFill('acexG', 1, acexGrain),
  grainFill('psG', 3, psGrain),
  grainFill('pcG', 5, pcGrain),
  profile('acexD', 0, acexDensity, BLACK, 2.7, 3),
  profile('psD', 2, psDensity, RED, 2.6, 3),
  profile('pcD', 4, pcDensity, GREEN, 2.6, 3),
  markedProfile('acexI', 6, acexIncl, BLACK, 1, 5, 3),
  markedProfile('pcI', 9, pcIncl, GREEN, 1.6, 6, 3),
  markedProfile('psI', 8, psIncl, RED, 1.8, 6, 4),
  profile('acexM', 10, acexSusc, BLACK, 2.7, 3),
  profile('pcM', 12, pcSusc, GREEN, 2.2, 3),
  horizon(coarseEndDepths, BLACK, 2.4, [14, 8]),
  horizon(peachClayDepths[0], ORANGE, 2.2, [14, 8]),
  horizon(peachClayDepths[1], ORANGE, 2.2, [14, 8])
];

// Text annotations
function label(x, y, text, font, fill, align, rotation) {
  return {
    type: 'text', x: x, y: y, rotation: rotation || 0, silent: true,
    style: { text: text, font: font, fill: fill || '#1a1a1a', align: align || 'center', verticalAlign: 'middle' }
  };
}
const F_TITLE = '25px ' + HUMANIST;
const F_NOTE = '16px ' + HUMANIST;
const F_CORE = '19px ' + SANS;
const F_UNIT = 'bold 11px ' + SANS;
const F_GRAIN = 'bold 12px ' + SANS;

const eventPos = [[958, 169], [948, 213], [992, 256], [970, 271], [993, 290]];

const texts = [
  label(249, 45, 'Bulk Density and Grain Size', F_TITLE, '#111'),
  label(635, 20, 'Inclination', F_TITLE, '#111'),
  label(900, 52, 'Magnetic Susceptibility', F_TITLE, '#111'),
  label(629, 57, 'PS-2185-6', '16px ' + SANS, '#222'),
  label(95, 85, '> 63 µm (wt %)', F_GRAIN, '#111'),
  label(250, 85, '> 63 µm (wt %)', F_GRAIN, '#111'),
  label(351, 85, '> 63 µm (wt %)', F_GRAIN, '#111'),
  label(107, 751, 'g/cm³', F_UNIT, '#111'),
  label(123, 785, 'ACEX', F_CORE, '#222'),
  label(233, 572, 'g/cm³', F_UNIT, '#111'),
  label(232, 592, 'PS-2185-6', F_CORE, '#222'),
  label(341, 666, 'g/cm³', F_UNIT, '#111'),
  label(345, 688, '96/12-PC', F_CORE, '#222'),
  label(540, 753, 'ACEX', F_CORE, '#222'),
  label(702, 662, '96/12-PC', F_CORE, '#222'),
  label(855, 744, 'x10⁻⁵ SI', F_UNIT, '#111'),
  label(846, 784, 'ACEX', F_CORE, '#222'),
  label(942, 648, 'x10⁻⁵ SI', F_UNIT, '#111'),
  label(947, 680, '96/12-PC', F_CORE, '#222'),
  label(20, 376, 'Migrated Depth ( ACEX rmcd scale)', '15px ' + SANS, '#222', 'center', Math.PI / 2),
  label(1014, 287, 'End of', F_NOTE, '#111', 'left'),
  label(1014, 307, 'coarse', F_NOTE, '#111', 'left'),
  label(1012, 327, 'interval', F_NOTE, '#111', 'left'),
  label(1042, 443, 'Peach', F_NOTE, '#e39a55'),
  label(1045, 463, 'clay layers', F_NOTE, '#e39a55')
].concat(eventLabels.map((t, i) => label(eventPos[i][0], eventPos[i][1], t, F_NOTE, '#6fe83a')));

const chart = echarts.init(document.getElementById('chart'), null, { renderer: 'canvas' });
chart.setOption({
  backgroundColor: '#ffffff',
  animation: false,
  grid: grids,
  xAxis: xAxes,
  yAxis: yAxes,
  series: series,
  graphic: { elements: texts }
});
</script>
</body>
</html>
